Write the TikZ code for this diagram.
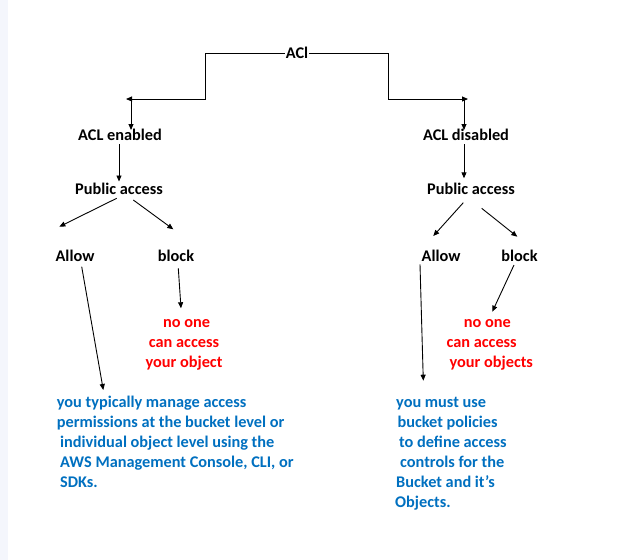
\documentclass[tikz,border=0pt]{standalone}
\usepackage{fontspec}
\setmainfont{Carlito}
\usetikzlibrary{arrows.meta}
\definecolor{txtblue}{HTML}{0070C0}
\definecolor{txtred}{HTML}{FF0000}
\definecolor{strip}{HTML}{F4F6FC}
\begin{document}
\begin{tikzpicture}[x=1pt,y=-1pt,
  lbl/.style={font=\fontsize{16.3}{20}\selectfont\bfseries, inner sep=0pt, text height=12pt, text depth=2pt},
  redtxt/.style={lbl,text=txtred},
  bluetxt/.style={lbl,text=txtblue,anchor=west},
  conn/.style={line width=0.9pt},
  arr/.style={conn,-{Triangle[length=6pt,width=5pt]}}]
\fill[white] (0,0) rectangle (630,560);
\fill[strip] (0,0) rectangle (8,560);
\useasboundingbox (0,0) rectangle (630,560);

% nodes
\node[lbl] (acl) at (297,53.5) {ACl};
\node[lbl] (enL) at (120,135) {ACL enabled};
\node[lbl] (disR) at (466,135) {ACL disabled};
\node[lbl] (pubL) at (119,189) {Public access};
\node[lbl] (pubR) at (471,189) {Public access};
\node[lbl] (allowL) at (75,256.5) {Allow};
\node[lbl] (blockL) at (176,256.5) {block};
\node[lbl] (allowR) at (441,256) {Allow};
\node[lbl] (blockR) at (519.5,256) {block};

\node[redtxt] (redL1) at (186.7,322.7) {no one};
\node[redtxt] (redL2) at (184,342.7) {can access};
\node[redtxt] (redL3) at (184,362.7) {your object};
\node[redtxt] (redR1) at (487.3,322.7) {no one};
\node[redtxt] (redR2) at (481.7,342.7) {can access};
\node[redtxt] (redR3) at (491.3,362.7) {your objects};

\node[bluetxt] (blueL1) at (56.7,402.7) {you typically manage access};
\node[bluetxt] (blueL2) at (56.7,422.7) {permissions at the bucket level or};
\node[bluetxt] (blueL3) at (60,442.7) {individual object level using the};
\node[bluetxt] (blueL4) at (60,462.7) {AWS Management Console, CLI, or};
\node[bluetxt] (blueL5) at (60,482.7) {SDKs.};

\node[bluetxt] (blueR1) at (396,402.7) {you must use};
\node[bluetxt] (blueR2) at (397.3,422.7) {bucket policies};
\node[bluetxt] (blueR3) at (399,442.7) {to define access};
\node[bluetxt] (blueR4) at (400,462.7) {controls for the};
\node[bluetxt] (blueR5) at (396,482.7) {Bucket and it’s};
\node[bluetxt] (blueR6) at (395,502.7) {Objects.};

% connectors
\draw[arr] ([xshift=-1pt]acl.west) -| ([shift={(85,-36)}]enL.center) -- ([shift={(6,-36)}]enL.center);
\draw[arr] ([xshift=1pt]acl.east) -| ([shift={(-78,-36)}]disR.center) -- ([shift={(2,-36)}]disR.center);
\draw[arr] ([shift={(11,-36)}]enL.center) -- ([shift={(11,-5)}]enL.center);
\draw[arr] ([shift={(-2,-36)}]disR.center) -- ([shift={(-2,-5)}]disR.center);

\draw[arr] ([shift={(-1,9)}]enL.center) -- ([shift={(0,-7.5)}]pubL.center);
\draw[arr] ([shift={(-2,9)}]disR.center) -- ([shift={(-7,-10.7)}]pubR.center);

\draw[arr] ([shift={(-2.3,9.3)}]pubL.center) -- ([shift={(-15.7,-29.8)}]allowL.center);
\draw[arr] ([shift={(14.3,11)}]pubL.center) -- ([shift={(-2.7,-27.2)}]blockL.center);
\draw[arr] ([shift={(-7.7,13.7)}]pubR.center) -- ([shift={(-7.7,-20)}]allowR.center);
\draw[arr] ([shift={(10.7,19.3)}]pubR.center) -- ([shift={(-2.2,-19.3)}]blockR.center);

\draw[arr] ([shift={(6.7,10.2)}]allowL.center) -- ([shift={(46.6,-12.7)}]blueL1.west);
\draw[arr] ([shift={(2.3,11.8)}]blockL.center) -- ([shift={(-5.7,-14.4)}]redL1.center);
\draw[arr] ([shift={(-21,8.3)}]allowR.center) -- ([shift={(27.3,-22)}]blueR1.west);
\draw[arr] ([shift={(-5.5,9)}]blockR.center) -- ([shift={(5,-11)}]redR1.center);
\end{tikzpicture}
\end{document}
